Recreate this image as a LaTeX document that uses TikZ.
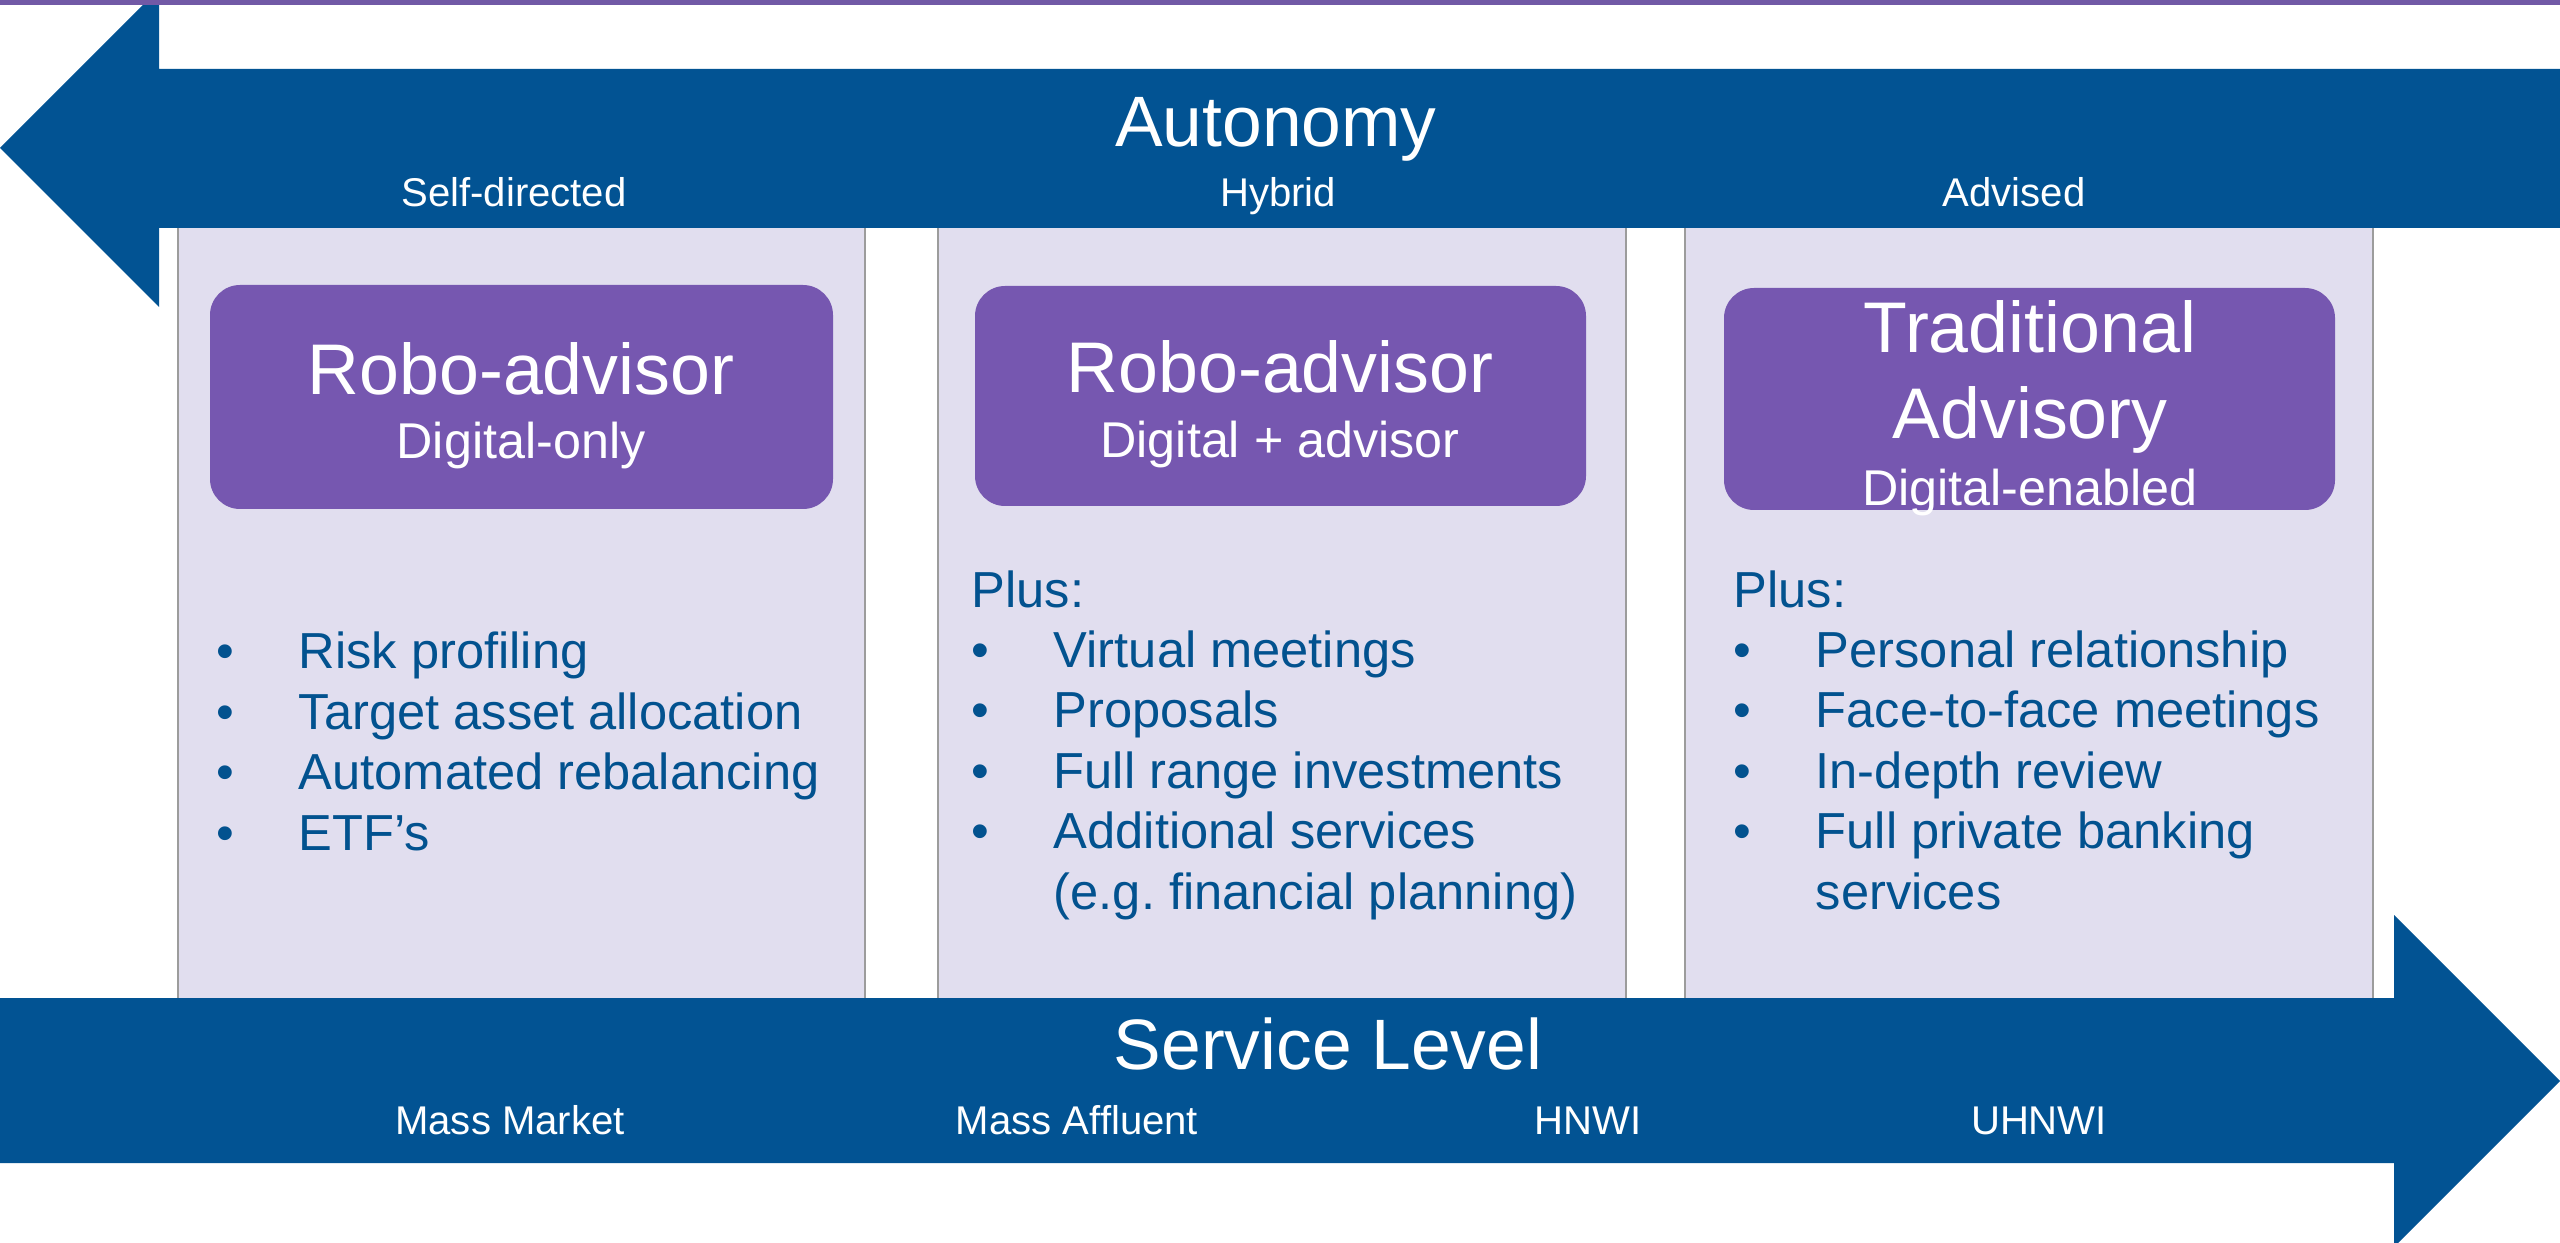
\documentclass[tikz,border=0pt]{standalone}
\usepackage{fontspec}
\setmainfont{Liberation Sans}
\definecolor{arrowblue}{HTML}{025393}
\definecolor{txtblue}{HTML}{02528F}
\definecolor{boxpurple}{HTML}{7657B0}
\definecolor{panelfill}{HTML}{E1DEEF}
\definecolor{panelline}{HTML}{9C9C9C}
\definecolor{topline}{HTML}{7159A6}
\begin{document}
\frenchspacing
\begin{tikzpicture}[x=0.01cm,y=-0.01cm,
  panel/.style={fill=panelfill,draw=panelline,line width=0.6pt},
  pbox/.style={fill=boxpurple,rounded corners=0.3cm},
  bigarrow/.style={fill=arrowblue},
  wtxt/.style={text=white,inner sep=0pt,anchor=base},
  axistitle/.style={wtxt,font=\fontsize{20.3pt}{25pt}\selectfont},
  axislabel/.style={wtxt,font=\fontsize{11.4pt}{13pt}\selectfont},
  boxtitle/.style={wtxt,font=\fontsize{20.4pt}{25pt}\selectfont},
  boxsub/.style={wtxt,font=\fontsize{14.3pt}{17pt}\selectfont},
  blist/.style={text=txtblue,inner sep=0pt,anchor=base west,
    font=\fontsize{14.4pt}{17.2pt}\selectfont}]
\useasboundingbox (0,0) rectangle (2560,1243);
\clip (0,0) rectangle (2560,1243);
\fill[white] (0,0) rectangle (2560,1243);
% panels
\draw[panel] (178,220) rectangle (865,1005);
\draw[panel] (938,220) rectangle (1626,1005);
\draw[panel] (1685,220) rectangle (2373,1005);
% arrows
\fill[bigarrow] (0,148) -- (159,-11) -- (159,69) -- (2560,69) -- (2560,228)
  -- (159,228) -- (159,307) -- cycle;
\fill[bigarrow] (0,998) -- (2394,998) -- (2394,915) -- (2560,1081)
  -- (2394,1247) -- (2394,1163) -- (0,1163) -- cycle;
% top line
\fill[topline] (0,0) rectangle (2560,5.5);
% purple boxes
\fill[pbox] (210,285) rectangle (833,509);
\fill[pbox] (975,286) rectangle (1586,506);
\fill[pbox] (1724,288) rectangle (2335,510);
% axis texts
\node[axistitle] (aut) at (1276,147) {Autonomy};
\node[axislabel] (sd) at (514,207) {Self-directed};
\node[axislabel] (hy) at (1278,207) {Hybrid};
\node[axislabel] (ad) at (2014,207) {Advised};
\node[axistitle] (sl) at (1328,1069) {Service Level};
\node[axislabel] (mm) at (510,1134) {Mass Market};
\node[axislabel] (ma) at (1077,1134) {Mass Affluent};
\node[axislabel] (hn) at (1588,1134) {HNWI};
\node[axislabel] (uh) at (2039,1134) {UHNWI};
% box texts
\node[boxtitle] (t1) at (521,395) {Robo-advisor};
\node[boxsub] (s1) at (521,459) {Digital-only};
\node[boxtitle] (t2) at (1280,393) {Robo-advisor};
\node[boxsub] (s2) at (1280,458) {Digital + advisor};
\node[boxtitle] (t3a) at (2030,353) {Traditional};
\node[boxtitle] (t3b) at (2030,439) {Advisory};
\node[boxsub] (s3) at (2030,505) {Digital-enabled};
% lists
\node[blist] (l1) at (216,669) {\begin{tabular}[t]{@{}p{0.82cm}@{}l@{}}
\textbullet & Risk profiling\\
\textbullet & Target asset allocation\\
\textbullet & Automated rebalancing\\
\textbullet & ETF’s
\end{tabular}};
\node[blist] (l2) at (971,607) {\begin{tabular}[t]{@{}p{0.82cm}@{}l@{}}
\multicolumn{2}{@{}l@{}}{Plus:}\\
\textbullet & Virtual meetings\\
\textbullet & Proposals\\
\textbullet & Full range investments\\
\textbullet & Additional services\\
 & (e.g. financial planning)
\end{tabular}};
\node[blist] (l3) at (1733,607) {\begin{tabular}[t]{@{}p{0.82cm}@{}l@{}}
\multicolumn{2}{@{}l@{}}{Plus:}\\
\textbullet & Personal relationship\\
\textbullet & Face-to-face meetings\\
\textbullet & In-depth review\\
\textbullet & Full private banking\\
 & services
\end{tabular}};
\end{tikzpicture}
\end{document}
